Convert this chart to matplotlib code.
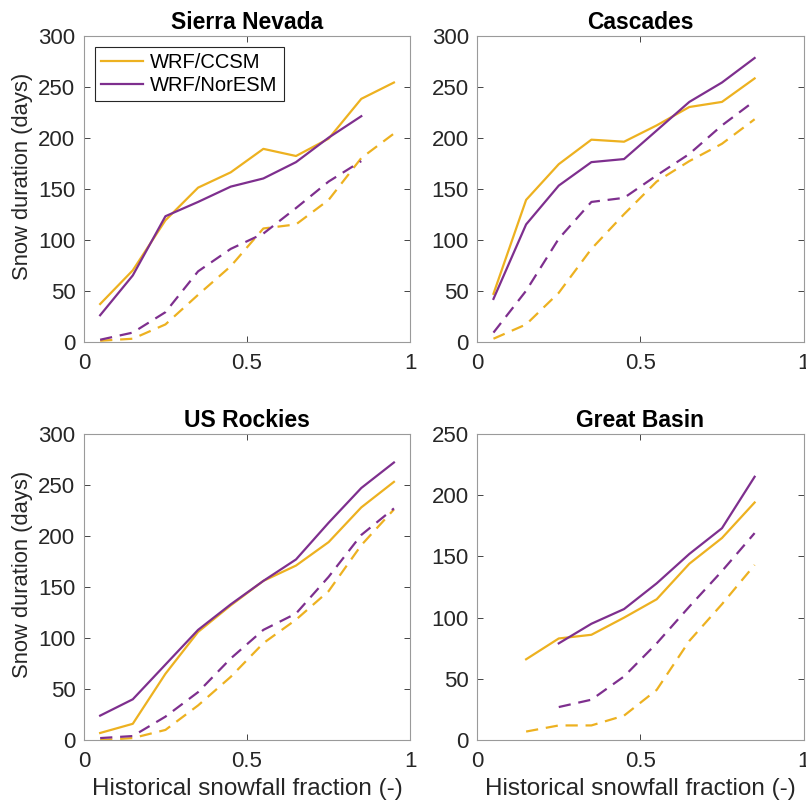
import matplotlib
matplotlib.use("Agg")
import matplotlib.pyplot as plt
import numpy as np

plt.rcParams['font.family'] = ['Liberation Sans', 'DejaVu Sans']

x = np.array([0.05, 0.15, 0.25, 0.35, 0.45, 0.55, 0.65, 0.75, 0.85, 0.95])
nan = np.nan

titles = ["Sierra Nevada", "Cascades", "US Rockies", "Great Basin"]

# solid = historical, dashed = future
ccsm_hist = [
    [37, 70, 119, 151, 166, 189, 182, 199, 238, 254],
    [47, 139, 174, 198, 196, 212, 230, 235, 258, nan],
    [7, 16, 65, 106, 132, 156, 171, 194, 228, 253],
    [nan, 66, 83, 86, 100, 115, 144, 165, 194, nan],
]
nor_hist = [
    [26, 65, 123, 137, 152, 160, 176, 200, 221, nan],
    [42, 115, 153, 176, 179, 207, 235, 254, 278, nan],
    [24, 40, 74, 108, 133, 156, 177, 213, 247, 272],
    [nan, nan, 79, 95, 107, 128, 152, 173, 215, nan],
]
ccsm_fut = [
    [1, 3, 17, 46, 74, 111, 115, 139, 180, 204],
    [3, 17, 48, 91, 125, 157, 177, 194, 218, nan],
    [0, 2, 10, 34, 62, 95, 118, 146, 191, 226],
    [nan, 7, 12, 12, 20, 41, 81, 111, 143, nan],
]
nor_fut = [
    [2, 9, 29, 69, 91, 106, 131, 157, 177, nan],
    [9, 50, 101, 137, 141, 163, 184, 212, 236, nan],
    [2, 4, 23, 47, 80, 108, 124, 160, 201, 227],
    [nan, nan, 27, 33, 52, 79, 109, 138, 169, nan],
]
ymax = [300, 300, 300, 250]

orange = '#EDB120'
purple = '#7E2F8E'

fig = plt.figure(figsize=(8.06, 8.08), dpi=100)
lefts = [0.104, 0.592, 0.104, 0.592]
bottoms = [0.577, 0.577, 0.084, 0.084]

for i in range(4):
    ax = fig.add_axes([lefts[i], bottoms[i], 0.405, 0.379])
    l1, = ax.plot(x, ccsm_hist[i], color=orange, lw=1.6)
    l2, = ax.plot(x, nor_hist[i], color=purple, lw=1.6)
    ax.plot(x, ccsm_fut[i], color=orange, lw=1.6, ls=(0, (5.5, 3.5)))
    ax.plot(x, nor_fut[i], color=purple, lw=1.6, ls=(0, (5.5, 3.5)))
    ax.set_xlim(0, 1)
    ax.set_ylim(0, ymax[i])
    ax.set_xticks([0, 0.5, 1])
    ax.set_xticklabels(['0', '0.5', '1'])
    ax.set_yticks(np.arange(0, ymax[i] + 1, 50))
    ax.tick_params(direction='in', top=True, right=True, length=4, width=0.6,
                   color='#262626', labelsize=16, labelcolor='#262626')
    ax.tick_params(axis='x', pad=8)
    ax.tick_params(axis='y', pad=6)
    for s in ax.spines.values():
        s.set_color('#9a9a9a')
        s.set_linewidth(0.8)
    ax.set_title(titles[i], fontsize=16.5, fontweight='bold', pad=5)
    if i % 2 == 0:
        ax.set_ylabel("Snow duration (days)", fontsize=15.8, color='#262626')
        ax.yaxis.set_label_coords(-0.155, 0.54)
    if i >= 2:
        ax.set_xlabel("Historical snowfall fraction (-)", fontsize=17.5, color='#262626', labelpad=4)
    if i == 0:
        leg = ax.legend([l1, l2], ['WRF/CCSM', 'WRF/NorESM'], loc='upper left',
                        fontsize=14.5, fancybox=False, framealpha=1, handlelength=2.1,
                        borderaxespad=0.55, labelspacing=0.2, handletextpad=0.35,
                        borderpad=0.3)
        leg.get_frame().set_edgecolor('#262626')
        leg.get_frame().set_linewidth(0.8)

fig.savefig("out.png", dpi=100)
